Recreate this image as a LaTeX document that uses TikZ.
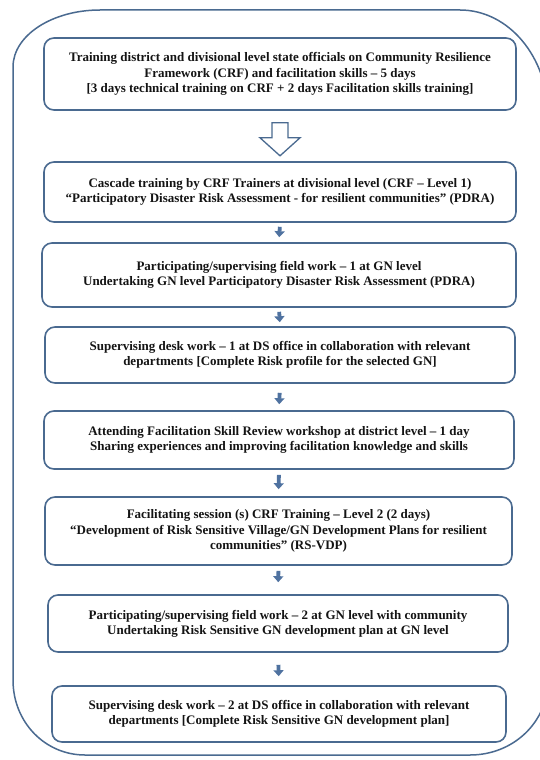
\documentclass[tikz,border=0pt]{standalone}
\usepackage{fontspec}
\setmainfont{Liberation Serif}
\usetikzlibrary{arrows.meta,calc}
\definecolor{frame}{HTML}{4A6A90}
\definecolor{arrowblue}{HTML}{4F72A0}
\definecolor{txt}{HTML}{141414}
\tikzset{
  stepbox/.style={draw=frame, line width=1.6pt, rounded corners=10pt, fill=white,
    align=center, text=txt, inner sep=0pt,
    font=\bfseries\fontsize{13}{15.2}\selectfont},
  smallarrow/.style={draw=arrowblue, line width=3.8pt,
    -{Triangle[width=10pt,length=6pt]}},
  hollow/.style={draw=frame, line width=1.3pt, fill=white, line join=miter},
  outerframe/.style={draw=frame, line width=1.5pt}
}
\begin{document}
\begin{tikzpicture}[x=1pt,y=-1pt]
\useasboundingbox (0,0) rectangle (540,760);
\fill[white] (0,0) rectangle (540,760);
\clip (0,0) rectangle (540,760);
% outer frame
\draw[outerframe] (100,10) -- (460,10)
  .. controls (508.6,10) and (548,57) .. (548,115)
  -- (548,680)
  .. controls (548,722.5) and (513,755) .. (470,755)
  -- (85,755)
  .. controls (45.3,755) and (13,722.5) .. (13,680)
  -- (13,67)
  .. controls (13,35.5) and (52,10) .. (100,10) -- cycle;
% boxes
\node[stepbox, minimum width=472pt, minimum height=72pt] (b1) at (280,74)
  {Training district and divisional level state officials on Community Resilience\\
   Framework (CRF) and facilitation skills -- 5 days\\
   {[}3 days technical training on CRF + 2 days Facilitation skills training{]}};
\node[stepbox, minimum width=472pt, minimum height=60pt] (b2) at (280,192)
  {Cascade training by CRF Trainers at divisional level (CRF -- Level 1)\\
   “Participatory Disaster Risk Assessment - for resilient communities” (PDRA)};
\node[stepbox, minimum width=474pt, minimum height=64pt] (b3) at (279,275)
  {Participating/supervising field work -- 1 at GN level\\
   Undertaking GN level Participatory Disaster Risk Assessment (PDRA)};
\node[stepbox, minimum width=470pt, minimum height=56pt] (b4) at (280,355)
  {Supervising desk work -- 1 at DS office in collaboration with relevant\\
   departments {[}Complete Risk profile for the selected GN{]}};
\node[stepbox, minimum width=470pt, minimum height=58pt] (b5) at (279,440)
  {Attending Facilitation Skill Review workshop at district level -- 1 day\\
   Sharing experiences and improving facilitation knowledge and skills};
\node[stepbox, minimum width=467pt, minimum height=68pt] (b6) at (278.5,531)
  {Facilitating session (s) CRF Training -- Level 2 (2 days)\\
   “Development of Risk Sensitive Village/GN Development Plans for resilient\\
   communities” (RS-VDP)};
\node[stepbox, minimum width=460pt, minimum height=57pt] (b7) at (278,623.5)
  {Participating/supervising field work -- 2 at GN level with community\\
   Undertaking Risk Sensitive GN development plan at GN level};
\node[stepbox, minimum width=454pt, minimum height=56pt] (b8) at (279,714)
  {Supervising desk work -- 2 at DS office in collaboration with relevant\\
   departments {[}Complete Risk Sensitive GN development plan{]}};
% hollow arrow
\path (b1.south) ++(0,12) coordinate (ha);
\draw[hollow] ($(ha)+(-8,0)$) -- ($(ha)+(8,0)$) -- ($(ha)+(8,15)$) -- ($(ha)+(20,15)$)
  -- ($(ha)+(0,33)$) -- ($(ha)+(-20,15)$) -- ($(ha)+(-8,15)$) -- cycle;
% small arrows
\draw[smallarrow, shorten <=4pt, shorten >=5pt] (b2.south) -- (b3.north);
\draw[smallarrow, shorten <=4pt, shorten >=4pt] (b3.south) -- (b4.north);
\draw[smallarrow, shorten <=9pt, shorten >=6pt] (b4.south) -- (b5.north);
\draw[smallarrow, shorten <=5pt, shorten >=7pt] (b5.south) -- (b6.north);
\draw[smallarrow, shorten <=5pt, shorten >=12pt] (b6.south) -- (b7.north);
\draw[smallarrow, shorten <=12pt, shorten >=9pt] (b7.south) -- (b8.north);
\end{tikzpicture}
\end{document}
